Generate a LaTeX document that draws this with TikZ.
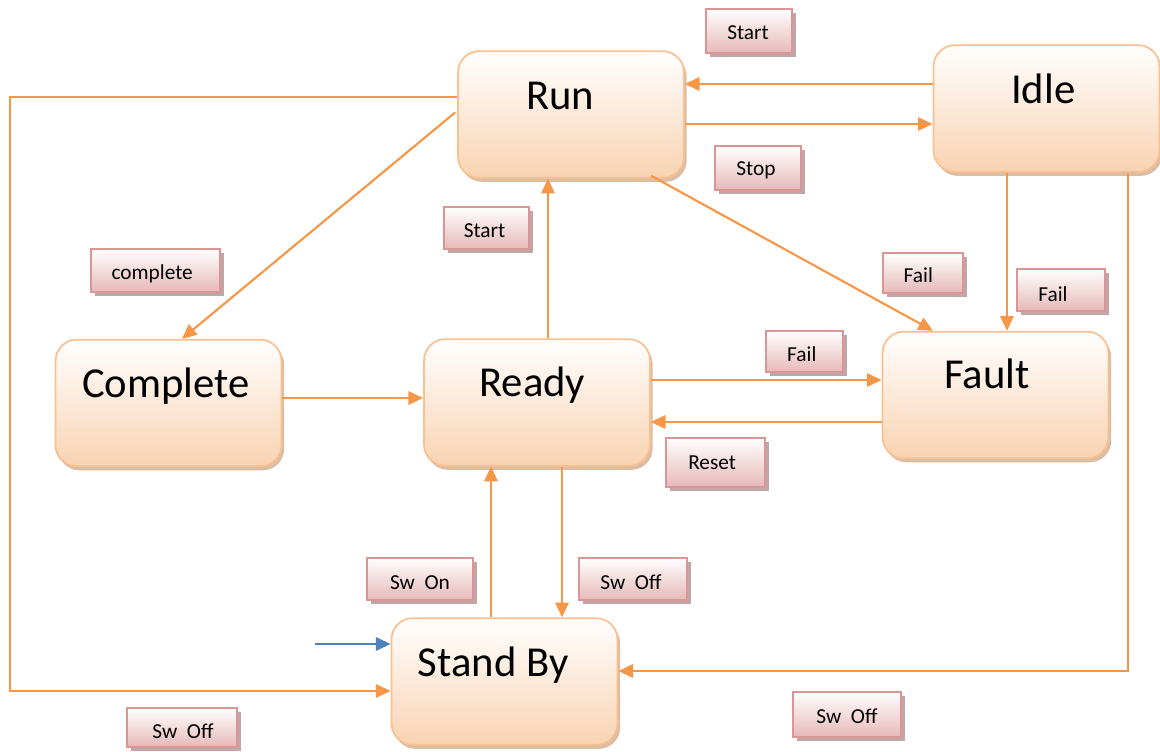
\documentclass[tikz,border=0pt]{standalone}
\usepackage{fontspec}
\setmainfont{Carlito}
\usetikzlibrary{arrows.meta,shadows,calc}
\definecolor{lineor}{HTML}{F79646}
\definecolor{stborder}{HTML}{FAC08F}
\definecolor{stfill}{HTML}{F9D3B2}
\definecolor{stshadow}{HTML}{C9A27E}
\definecolor{lbborder}{HTML}{D99694}
\definecolor{lbfill}{HTML}{E6B9B8}
\definecolor{lbshadow}{HTML}{B09090}
\definecolor{initblue}{HTML}{4F81BD}
\tikzset{
  statebox/.style={rectangle, rounded corners=16pt, draw=stborder, line width=1.3pt,
    top color=white, bottom color=stfill, minimum width=169.5pt, minimum height=95pt,
    inner sep=0pt,
    drop shadow={shadow xshift=2pt, shadow yshift=-3pt, fill=stshadow, opacity=0.7}},
  stlabel/.style={font=\fontsize{32}{36}\selectfont},
  lbox/.style={rectangle, draw=lbborder, line width=1.3pt, top color=white, bottom color=lbfill,
    inner sep=0pt,
    drop shadow={shadow xshift=3pt, shadow yshift=-3pt, fill=lbshadow, opacity=0.8}},
  lbtext/.style={font=\fontsize{16}{19}\selectfont, inner sep=0pt},
  conn/.style={draw=lineor, line width=1.6pt, -{Triangle[length=11pt,width=10pt]}},
  initconn/.style={draw=initblue, line width=1.6pt, -{Triangle[length=11pt,width=10pt]}}
}
\begin{document}
\begin{tikzpicture}[x=0.75pt,y=-0.75pt]
\useasboundingbox (0,0) rectangle (1160,752);
% states
\node[statebox, label={[stlabel,xshift=-8pt,yshift=14pt]center:Run}] (run) at (571,114.5) {};
\node[statebox, label={[stlabel,xshift=-2.5pt,yshift=15pt]center:Idle}] (idle) at (1046.5,108.5) {};
\node[statebox, label={[stlabel,xshift=-2pt,yshift=12.5pt]center:Complete}] (complete) at (168.5,403) {};
\node[statebox, label={[stlabel,xshift=-3.5pt,yshift=13pt]center:Ready}] (ready) at (537,402.5) {};
\node[statebox, label={[stlabel,xshift=-6.5pt,yshift=15.5pt]center:Fault}] (fault) at (995.5,395) {};
\node[statebox, label={[stlabel,xshift=-8.5pt,yshift=12.5pt]center:Stand By}] (standby) at (504.5,681.5) {};
% transition labels
\node[lbox, minimum width=64.5pt, minimum height=33.5pt,
  label={[lbtext,xshift=-0.75pt,yshift=-1.5pt]center:Start}] (lstartA) at (749,31) {};
\node[lbox, minimum width=64.5pt, minimum height=33pt,
  label={[lbtext,xshift=-1.5pt,yshift=-1.5pt]center:Stop}] (lstop) at (758,168) {};
\node[lbox, minimum width=64pt, minimum height=31.5pt,
  label={[lbtext,xshift=-1.5pt,yshift=-2pt]center:Start}] (lstartB) at (486.5,228) {};
\node[lbox, minimum width=97pt, minimum height=32pt,
  label={[lbtext,xshift=-2.5pt,yshift=-2.5pt]center:complete}] (lcomplete) at (155.5,270.5) {};
\node[lbox, minimum width=60pt, minimum height=30pt,
  label={[lbtext,xshift=-3.5pt,yshift=-1.5pt]center:Fail}] (lfailA) at (923,273) {};
\node[lbox, minimum width=66pt, minimum height=31.5pt,
  label={[lbtext,xshift=-6pt,yshift=-3pt]center:Fail}] (lfailB) at (1061,290) {};
\node[lbox, minimum width=58pt, minimum height=31pt,
  label={[lbtext,xshift=-2pt,yshift=-2pt]center:Fail}] (lfailC) at (804.5,351.5) {};
\node[lbox, minimum width=74pt, minimum height=37pt,
  label={[lbtext,xshift=-2.5pt,yshift=0pt]center:Reset}] (lreset) at (715.5,462.5) {};
\node[lbox, minimum width=79.5pt, minimum height=31.5pt,
  label={[lbtext,xshift=0pt,yshift=-2.5pt]center:Sw\ \ On}] (lswon) at (420,579) {};
\node[lbox, minimum width=81pt, minimum height=31.5pt,
  label={[lbtext,xshift=-1.5pt,yshift=-2.5pt]center:Sw\ \ Off}] (lswoffA) at (633,579) {};
\node[lbox, minimum width=82.5pt, minimum height=29pt,
  label={[lbtext,xshift=0.75pt,yshift=-2.5pt]center:Sw\ \ Off}] (lswoffB) at (182,727.5) {};
\node[lbox, minimum width=81pt, minimum height=34pt,
  label={[lbtext,xshift=0pt,yshift=-1.5pt]center:Sw\ \ Off}] (lswoffC) at (847,714.5) {};
% connectors
\draw[conn] ($(idle.west)+(0,-24.5)$) coordinate (p1) -- (run.east |- p1);
\draw[conn] ($(run.east)+(0,9.5)$) coordinate (p2) -- (idle.west |- p2);
\draw[conn] ($(run.west)+(-2,-2)$) -- ($(complete.north)+(13.5,0)$);
\draw[conn] ($(run.south)+(80,-3)$) -- ($(fault.north)+(-62.5,0)$);
\draw[conn] ($(idle.south)+(-39.5,0)$) coordinate (p5) -- (p5 |- fault.north);
\draw[conn] ($(ready.north)+(11,0)$) coordinate (p6) -- (p6 |- run.south);
\draw[conn] ($(complete.east)+(0,-5)$) coordinate (p7) -- (ready.west |- p7);
\draw[conn] ($(ready.east)+(0,-22.5)$) coordinate (p8) -- (fault.west |- p8);
\draw[conn] ($(fault.west)+(0,27)$) coordinate (p9) -- (ready.east |- p9);
\draw[conn] ($(standby.north)+(-13.5,0)$) coordinate (p10) -- (p10 |- ready.south);
\draw[conn] ($(ready.south)+(25,0)$) coordinate (p11) -- (p11 |- standby.north);
\coordinate (leftrail) at (10,400);
\draw[conn] ($(run.west)+(0,-17.5)$) -| (leftrail) |- ($(standby.west)+(0,9.5)$);
\draw[conn] ($(idle.south)+(81.5,0)$) |- ($(standby.east)+(0,-10.5)$);
\coordinate (init) at (315,644);
\draw[initconn] (init) -- (standby.west |- init);
\end{tikzpicture}
\end{document}
